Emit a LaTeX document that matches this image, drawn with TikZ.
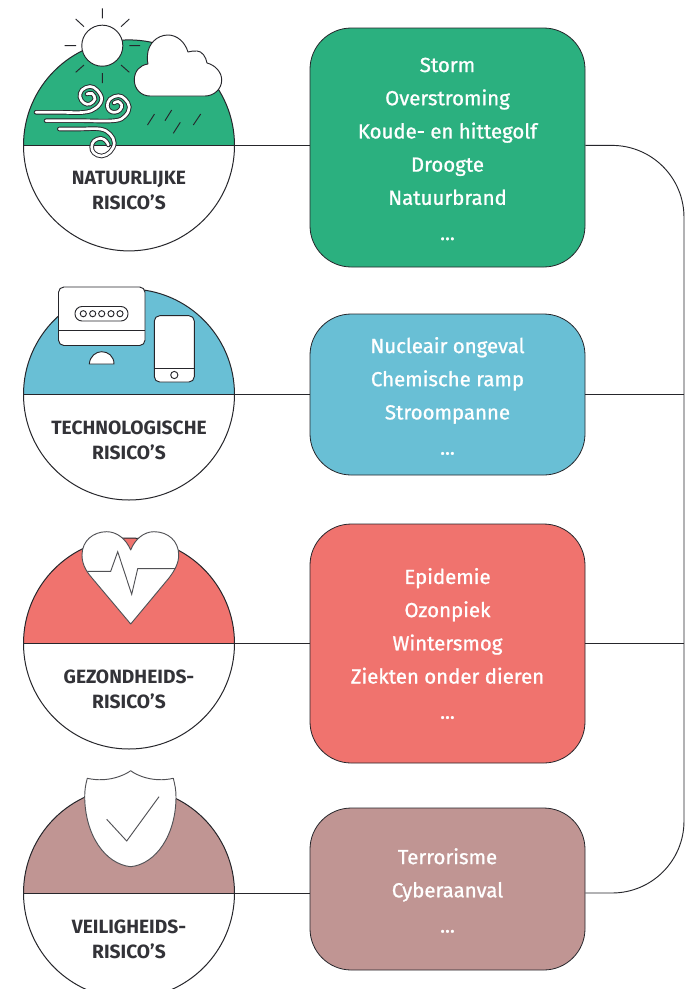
\documentclass[tikz,border=0pt]{standalone}
\usepackage{fontspec}
\setmainfont{Fira Sans}
\definecolor{ink}{HTML}{26262B}
\definecolor{captink}{HTML}{333338}
\definecolor{cgreen}{HTML}{2BB07F}
\definecolor{cblue}{HTML}{69BFD5}
\definecolor{cred}{HTML}{F0736E}
\definecolor{cmauve}{HTML}{C09593}
\tikzset{
  riskcircle/.style={circle,draw=ink,line width=.75pt,fill=white,minimum size=158.25pt,inner sep=0pt,
    path picture={\fill[#1] (path picture bounding box.north west) rectangle (path picture bounding box.east);}},
  riskbox/.style={draw=ink,line width=.6pt,fill=#1,rounded corners=31pt,minimum width=206.25pt,inner sep=0pt},
  conn/.style={draw=ink,line width=.7pt},
  icon/.style={draw=ink,line width=.7pt,fill=white,line join=round},
  ray/.style={draw=ink,line width=.7pt},
  capt/.style={text=captink,font=\fontsize{14.4pt}{18.75pt}\selectfont\bfseries,align=center,inner sep=0pt},
  listing/.style={text=white,font=\fontsize{15.3pt}{24.9pt}\selectfont\addfontfeature{FakeBold=1},align=center,inner sep=0pt},
  windo/.style={draw=ink,line width=3.4pt,line cap=round},
  windi/.style={draw=white,line width=2pt,line cap=round},
}
\begin{document}
\begin{tikzpicture}[x=.75pt,y=-.75pt]
\clip (0,0) rectangle (685,989);
\fill[white] (0,0) rectangle (685,989);
\coordinate (bus) at (684,0);
% circles
\node[riskcircle=cgreen] (c1) at (129,145.4) {};
\node[riskcircle=cblue] (c2) at (129,394.5) {};
\node[riskcircle=cred] (c3) at (129,643.5) {};
\node[riskcircle=cmauve] (c4) at (129,893) {};
% boxes
\node[riskbox=cgreen,minimum height=179.25pt] (b1) at (447.5,147.5) {};
\node[riskbox=cblue,minimum height=120.75pt] (b2) at (447.5,394.5) {};
\node[riskbox=cred,minimum height=179.25pt] (b3) at (447.5,643.5) {};
\node[riskbox=cmauve,minimum height=121.5pt] (b4) at (447.5,889) {};
% connectors
\foreach \i in {1,2,3,4} {
  \draw[conn] (c\i.west) -- (c\i.east) -- (c\i.east -| b\i.west);
}
\draw[conn,rounded corners=54pt] (c1.east -| b1.east) -- (c1.east -| bus) -- (c4.east -| bus) -- (c4.east -| b4.east);
\draw[conn] (c2.east -| b2.east) -- (c2.east -| bus);
\draw[conn] (c3.east -| b3.east) -- (c3.east -| bus);
% list text
\node[listing] (t1) at (447.5,149) {Storm\\Overstroming\\Koude- en hittegolf\\Droogte\\Natuurbrand\\[1.5pt]...};
\node[listing] (t2) at (447.5,396) {Nucleair ongeval\\Chemische ramp\\Stroompanne\\[1.5pt]...};
\node[listing] (t3) at (447.5,643.5) {Epidemie\\Ozonpiek\\Wintersmog\\Ziekten onder dieren\\[1.5pt]...};
\node[listing] (t4) at (447.5,890.5) {Terrorisme\\Cyberaanval\\[1.5pt]...};
% captions
\node[capt] (l1) at (129,191) {NATUURLIJKE\\RISICO’S};
\node[capt] (l2) at (129,440.5) {TECHNOLOGISCHE\\RISICO’S};
\node[capt] (l3) at (129,689.5) {GEZONDHEIDS-\\RISICO’S};
\node[capt] (l4) at (129,939) {VEILIGHEIDS-\\RISICO’S};
% sun
\draw[icon] (102.3,45.7) circle[radius=15.4pt];
\draw[ray] (102.3,8.3)--(102.3,18.3) (102.3,73)--(102.3,83)
  (64.5,45.7)--(76,45.7) (129.3,45.7)--(140,45.7)
  (75.7,19)--(84,26.7) (129.3,19)--(121,26.7)
  (75.7,72.3)--(84,65) (129.3,72.3)--(121,65);
% cloud
\draw[icon] (150,96) .. controls (141,96) and (134.3,89) .. (134.3,80)
  .. controls (134.3,71) and (140,65) .. (148,64)
  .. controls (147,60) and (147.5,57) .. (147.5,55)
  .. controls (148,44) and (157,35) .. (168,35)
  .. controls (177,35) and (185,42) .. (188,52)
  .. controls (191,51) and (194,51) .. (197,51)
  .. controls (202,51) and (206,57) .. (207,63)
  .. controls (215,65) and (221.7,72) .. (221.7,80)
  .. controls (221.7,89) and (214,96) .. (205,96) -- cycle;
% rain
\draw[ray] (147.5,125)--(154.5,114) (165,120.7)--(171.7,110) (173.3,133.3)--(180.3,122.3) (193.3,125)--(200.7,114);
% wind
\foreach \st in {windo,windi} {
  \draw[\st] plot[smooth,tension=.65] coordinates {(36,112.3)(60,112.3)(84,112.3)(96,108)(101.7,99)(97,90)(90,86.5)(82,90)(80,97)(84,103)(90,104)(95,99)(92,93.5)(87,94)};
  \draw[\st] plot[smooth,tension=.65] coordinates {(46,120.7)(80,120.7)(114,120.7)(125,116)(129.3,107)(125,99)(118.3,95.7)(110,99)(107.3,106)(110,111)(115,112.3)(120,110)(121.7,105)(118,101.5)(114,103)};
  \draw[\st] plot[smooth,tension=.65] coordinates {(59.3,129)(80,129)(100,129)(110,134)(114.3,143)(110,152)(101.7,156)(94,153)(91.7,147)(94,141)(100.7,138.3)(106,141)(108.3,145)};
}
% monitor
\draw[icon,rounded corners=4pt] (58.5,287) rectangle (145,345.5);
\draw[ray] (58.5,330.5)--(145,330.5);
\draw[icon,rounded corners=5.3pt] (75,306.5) rectangle (128,321);
\foreach \x in {83.3,92.7,101.7,111,120} \draw[ray] (\x,313.7) circle[radius=2.3pt];
\draw[icon] (89.3,364) .. controls (90,356) and (96,351.7) .. (101.7,351.7) .. controls (108,351.7) and (114,356) .. (114,364) -- cycle;
% phone
\draw[icon,rounded corners=4pt] (154.3,315.7) rectangle (194.3,382);
\draw[ray] (154.3,368.3)--(194.3,368.3);
\draw[ray] (174.3,375) circle[radius=2.7pt];
% heart
\draw[icon,draw=ink!80] (130.7,624) -- (92,578)
  .. controls (85,570) and (82,563) .. (82,555)
  .. controls (82,541) and (93,531.7) .. (106.7,531.7)
  .. controls (117,531.7) and (126,539) .. (130.7,550)
  .. controls (135,539) and (144,531.7) .. (154,531.7)
  .. controls (168,531.7) and (178.7,541) .. (178.7,555)
  .. controls (178.7,563) and (175,570) .. (169,578) -- cycle;
\draw[ray,draw=ink!80,line join=miter] (87.3,571.3)--(110.7,571.3)--(117.7,551.7)--(131.7,594.3)--(137.7,568.7)--(175,568.7);
% shield
\draw[icon,draw=ink!80] (130.7,770.7) .. controls (125,775) and (108,783) .. (87.3,778.3)
  .. controls (85.5,785) and (84.7,790) .. (84.7,796.7)
  .. controls (85,835) and (105,864) .. (130.7,866.7)
  .. controls (156,864) and (176,835) .. (176,796.7)
  .. controls (176,790) and (175,785) .. (173.3,778.3)
  .. controls (153,783) and (136,775) .. (130.7,770.7) -- cycle;
\draw[ray,draw=ink!80,line join=miter] (106.7,819.3)--(126.7,841)--(159,796.7);
\end{tikzpicture}
\end{document}
